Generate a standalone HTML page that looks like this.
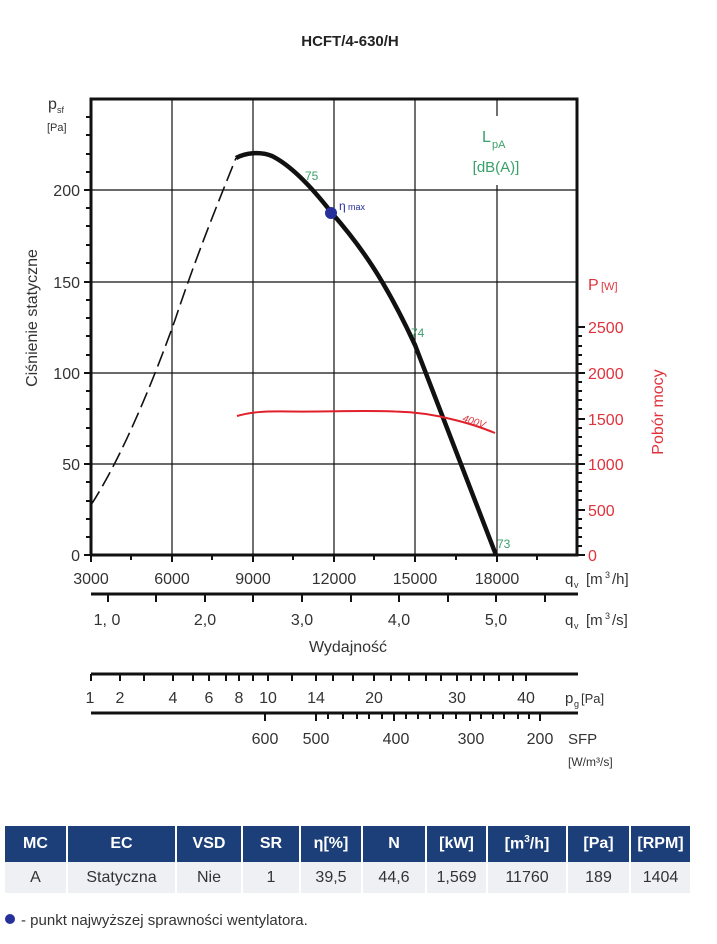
<!DOCTYPE html>
<html><head><meta charset="utf-8"><style>
body{margin:0;background:#fff;width:717px;height:944px;overflow:hidden;font-family:"Liberation Sans",sans-serif;}
svg{position:absolute;left:0;top:0}
table{position:absolute;left:5px;top:826px;border-collapse:collapse;table-layout:fixed;width:686px;font-family:"Liberation Sans",sans-serif;font-size:16px}
th{background:#1d3f79;color:#fff;height:36px;font-weight:bold;border-right:2px solid #fff;padding:0;overflow:hidden;white-space:nowrap}
td{background:#eef0f4;color:#333;height:31px;text-align:center;border-right:2px solid #fff;padding:0;white-space:nowrap}
</style></head><body>
<svg width="717" height="944" viewBox="0 0 717 944" font-family="Liberation Sans, sans-serif">
<text x="350" y="46" text-anchor="middle" font-size="15" font-weight="bold" fill="#222">HCFT/4-630/H</text>
<g stroke="#111" stroke-width="1.2">
<line x1="172" y1="99" x2="172" y2="555"/><line x1="253" y1="99" x2="253" y2="555"/>
<line x1="334" y1="99" x2="334" y2="555"/><line x1="415" y1="99" x2="415" y2="555"/>
<line x1="497" y1="99" x2="497" y2="116"/><line x1="497" y1="185" x2="497" y2="555"/>
<line x1="91" y1="190" x2="577" y2="190"/><line x1="91" y1="282" x2="577" y2="282"/>
<line x1="91" y1="373" x2="577" y2="373"/><line x1="91" y1="464" x2="577" y2="464"/>
</g>
<g stroke="#111" stroke-width="3" fill="none">
<path d="M91 555 V99 H577 V555 H91"/>
</g>
<g stroke="#111" stroke-width="2">
<path d="M86 117h5M86 135h5M86 154h5M86 172h5M86 208h5M86 226h5M86 245h5M86 263h5M86 300h5M86 318h5M86 336h5M86 355h5M86 391h5M86 409h5M86 428h5M86 446h5M86 482h5M86 501h5M86 519h5M86 537h5M84 190h7M84 282h7M84 373h7M84 464h7M84 555h7"/>
<path d="M577 546h5M577 537h5M577 528h5M577 519h5M577 500h5M577 491h5M577 482h5M577 473h5M577 455h5M577 446h5M577 437h5M577 428h5M577 409h5M577 400h5M577 391h5M577 382h5M577 364h5M577 355h5M577 346h5M577 336h5M577 555h8M577 510h8M577 464h8M577 419h8M577 373h8M577 327h8"/>
<path d="M91 555v7M131 555v5M172 555v7M212 555v5M253 555v7M293 555v5M334 555v7M374 555v5M415 555v7M456 555v5M497 555v7M537 555v5"/>
</g>
<g font-size="16" fill="#333" text-anchor="end">
<text x="80" y="196">200</text><text x="80" y="288">150</text><text x="80" y="379">100</text><text x="80" y="470">50</text><text x="80" y="561">0</text>
</g>
<text x="48" y="109" font-size="16" fill="#333">p</text><text x="57" y="113" font-size="9" fill="#333">sf</text>
<text x="47" y="131" font-size="11" fill="#333">[Pa]</text>
<text transform="translate(37,318) rotate(-90)" text-anchor="middle" font-size="16" fill="#333">Ciśnienie statyczne</text>
<g font-size="16" fill="#e0323c">
<text x="588" y="561">0</text><text x="588" y="516">500</text><text x="588" y="470">1000</text><text x="588" y="425">1500</text><text x="588" y="379">2000</text><text x="588" y="333">2500</text>
<text x="588" y="290">P</text><text x="601" y="290" font-size="11">[W]</text>
<text transform="translate(663,412) rotate(-90)" text-anchor="middle" font-size="16">Pobór mocy</text>
</g>
<text x="482" y="142" font-size="16" fill="#3aa06a">L</text><text x="492" y="148" font-size="11" fill="#3aa06a">pA</text>
<text x="496" y="172" font-size="15" fill="#3aa06a" text-anchor="middle">[dB(A)]</text>
<path d="M91 505 C120 460 150 390 175 320 C195 260 215 210 236 158" stroke="#111" stroke-width="1.6" fill="none" stroke-dasharray="16,6"/>
<path d="M236 158 C245 153 260 151 272 156 C290 165 310 185 331 212 C360 245 385 280 415 345 L496 555" stroke="#111" stroke-width="4.5" fill="none"/>
<path d="M237 416 C250 412 265 411 290 411.5 C330 412 360 410 395 411.5 C420 412 440 416 455 420 C475 425 485 429 495 433" stroke="#e0202a" stroke-width="2" fill="none"/>
<text x="462" y="421" font-size="10" font-style="italic" fill="#e0323c" transform="rotate(18 462 421)">400V</text>
<circle cx="331" cy="213" r="6" fill="#27309a"/>
<text x="339" y="210" font-size="12" fill="#27309a">η</text><text x="348" y="210" font-size="9" fill="#27309a">max</text>
<g font-size="12" fill="#3aa06a"><text x="305" y="180">75</text><text x="411" y="337">74</text><text x="497" y="548">73</text></g>
<g font-size="16" fill="#333" text-anchor="middle">
<text x="91" y="584">3000</text><text x="172" y="584">6000</text><text x="253" y="584">9000</text><text x="334" y="584">12000</text><text x="415" y="584">15000</text><text x="497" y="584">18000</text>
<text x="107" y="625">1, 0</text><text x="205" y="625">2,0</text><text x="302" y="625">3,0</text><text x="399" y="625">4,0</text><text x="496" y="625">5,0</text>
<text x="348" y="652">Wydajność</text>
<text x="90" y="703">1</text><text x="120" y="703">2</text><text x="173" y="703">4</text><text x="209" y="703">6</text><text x="239" y="703">8</text><text x="268" y="703">10</text><text x="316" y="703">14</text><text x="374" y="703">20</text><text x="457" y="703">30</text><text x="526" y="703">40</text>
<text x="265" y="744">600</text><text x="316" y="744">500</text><text x="396" y="744">400</text><text x="471" y="744">300</text><text x="540" y="744">200</text>
</g>
<g font-size="15" fill="#333">
<text x="565" y="584">q</text><text x="574" y="588" font-size="9">v</text><text x="586" y="584">[m</text><text x="605" y="578" font-size="9">3</text><text x="612" y="584">/h]</text>
<text x="565" y="625">q</text><text x="574" y="629" font-size="9">v</text><text x="586" y="625">[m</text><text x="605" y="619" font-size="9">3</text><text x="612" y="625">/s]</text>
<text x="565" y="703">p</text><text x="574" y="707" font-size="9">g</text><text x="581" y="703" font-size="13">[Pa]</text>
<text x="568" y="744">SFP</text>
<text x="568" y="766" font-size="12">[W/m³/s]</text>
</g>
<g stroke="#111" stroke-width="3"><line x1="91" y1="594" x2="578" y2="594"/><line x1="91" y1="674" x2="578" y2="674"/><line x1="91" y1="713" x2="578" y2="713"/></g>
<g stroke="#111" stroke-width="2">
<path d="M108 594v8M156 594v8M205 594v8M253 594v8M302 594v8M351 594v8M399 594v8M448 594v8M496 594v8M545 594v8"/>
<path d="M91 674v7M120 674v7M144 674v7M173 674v7M193 674v7M209 674v7M226 674v7M239 674v7M253 674v7M268 674v7M292 674v7M316 674v7M333 674v7M353 674v7M374 674v7M391 674v7M409 674v7M426 674v7M441 674v7M457 674v7M471 674v7M484 674v7M499 674v7M513 674v7M526 674v7"/>
<path d="M265 713v8M316 713v8M328 713v6M343 713v6M357 713v6M369 713v6M382 713v6M394 713v8M406 713v6M418 713v6M430 713v6M443 713v6M456 713v6M470 713v8M481 713v6M493 713v6M504 713v6M518 713v6M529 713v6M540 713v8"/>
</g>
<circle cx="10" cy="919" r="5" fill="#27309a"/>
<text x="21" y="925" font-size="15" fill="#333">- punkt najwyższej sprawności wentylatora.</text>
</svg>
<table>
<colgroup><col style="width:62px"><col style="width:109px"><col style="width:66px"><col style="width:58px"><col style="width:62px"><col style="width:64px"><col style="width:61px"><col style="width:80px"><col style="width:63px"><col style="width:61px"></colgroup>
<tr><th>MC</th><th>EC</th><th>VSD</th><th>SR</th><th>η[%]</th><th>N</th><th>[kW]</th><th>[m<sup style="font-size:10px">3</sup>/h]</th><th>[Pa]</th><th>[RPM]</th></tr>
<tr><td>A</td><td>Statyczna</td><td>Nie</td><td>1</td><td>39,5</td><td>44,6</td><td>1,569</td><td>11760</td><td>189</td><td>1404</td></tr>
</table>
</body></html>
